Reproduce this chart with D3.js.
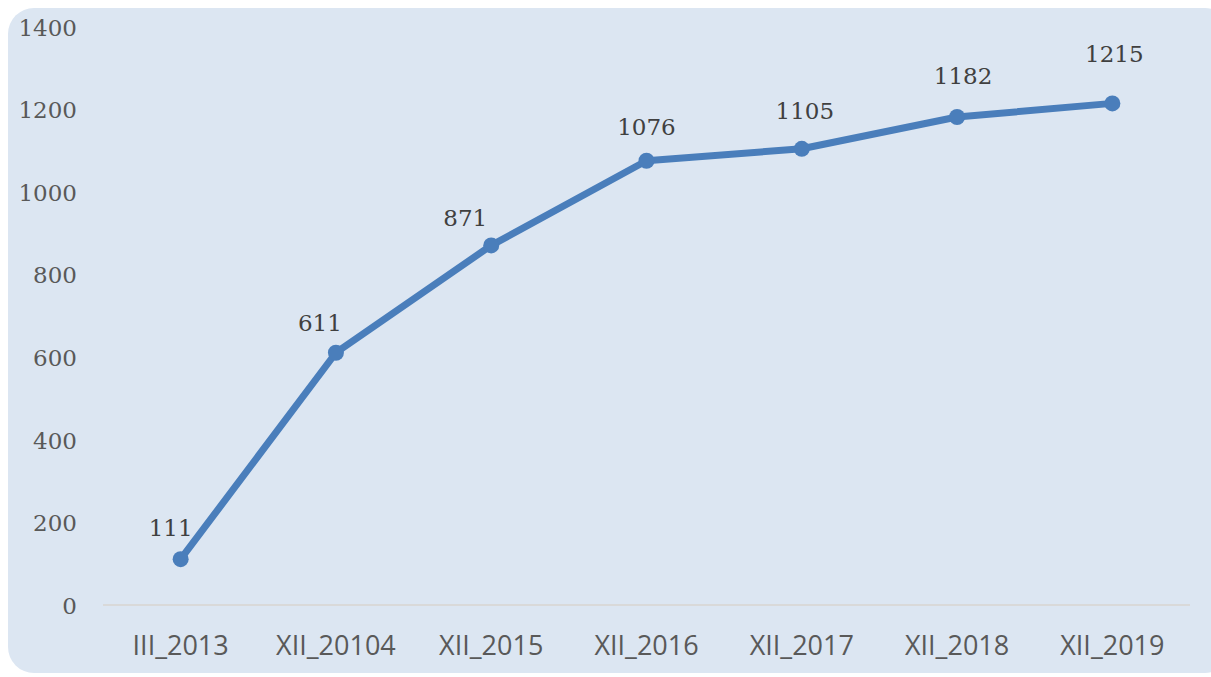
<!DOCTYPE html>
<html>
<head>
<meta charset="utf-8">
<script src="https://cdn.jsdelivr.net/npm/d3@7/dist/d3.min.js"></script>
<style>
  html, body { margin: 0; padding: 0; background: #ffffff; }
  svg { display: block; }
</style>
</head>
<body>
<div id="chart"></div>
<script>
// Period labels and cumulative counts
const categories = ["III_2013", "XII_20104", "XII_2015", "XII_2016", "XII_2017", "XII_2018", "XII_2019"];
const values = [111, 611, 871, 1076, 1105, 1182, 1215];
const yTicks = [0, 200, 400, 600, 800, 1000, 1200, 1400];

// Label nudges relative to each point (layout only)
const labelDx = [-10, -16, -26, 0, 3, 6, 2];
const labelDy = [-23, -22, -19, -26, -30, -33, -41];

const W = 1211, H = 677;
const svg = d3.select("#chart").append("svg")
  .attr("width", W).attr("height", H);

// Panel background
svg.append("rect")
  .attr("x", 8).attr("y", 8)
  .attr("width", W - 8 + 20).attr("height", 665)
  .attr("rx", 26).attr("ry", 26)
  .attr("fill", "#dce6f2");

const plotLeft = 103, plotRight = 1190;
const x = d3.scaleBand().domain(categories).range([plotLeft, plotRight]);
const y = d3.scaleLinear().domain([0, 1400]).range([605, 27]);
const cx = d => x(d) + x.bandwidth() / 2;

// Baseline at zero
svg.append("line")
  .attr("x1", plotLeft).attr("x2", plotRight)
  .attr("y1", y(0)).attr("y2", y(0))
  .attr("stroke", "#d9d9d9").attr("stroke-width", 2);

// Y axis tick labels
const yAxis = d3.axisLeft(y).tickValues(yTicks).tickFormat(d3.format("d")).tickSize(0).tickPadding(0);
const gy = svg.append("g").attr("transform", "translate(77,0)").call(yAxis);
gy.select(".domain").remove();
gy.selectAll("text")
  .attr("font-family", "'DejaVu Serif', serif")
  .attr("font-size", 23)
  .attr("fill", "#595959")
  .attr("dy", "0.36em");

// X axis category labels
const xAxis = d3.axisBottom(x).tickSize(0).tickPadding(0);
const gx = svg.append("g").attr("transform", "translate(0,655)").call(xAxis);
gx.select(".domain").remove();
gx.selectAll("text")
  .attr("font-family", "'Open Sans', sans-serif")
  .attr("font-size", 27)
  .attr("fill", "#595959")
  .attr("dy", 0)
  .attr("y", 0);

const pts = categories.map((c, i) => ({ c, v: values[i], i }));

// Series line
const line = d3.line().x(d => cx(d.c)).y(d => y(d.v));
svg.append("path")
  .datum(pts)
  .attr("d", line)
  .attr("fill", "none")
  .attr("stroke", "#4a7ebb")
  .attr("stroke-width", 7)
  .attr("stroke-linejoin", "round")
  .attr("stroke-linecap", "round");

// Markers
svg.selectAll("circle.pt").data(pts).enter().append("circle")
  .attr("class", "pt")
  .attr("cx", d => cx(d.c)).attr("cy", d => y(d.v))
  .attr("r", 8)
  .attr("fill", "#4a7ebb");

// Value labels
svg.selectAll("text.val").data(pts).enter().append("text")
  .attr("class", "val")
  .attr("x", d => cx(d.c) + labelDx[d.i])
  .attr("y", d => y(d.v) + labelDy[d.i])
  .attr("text-anchor", "middle")
  .attr("font-family", "'DejaVu Serif', serif")
  .attr("font-size", 23)
  .attr("fill", "#404040")
  .text(d => d.v);
</script>
</body>
</html>
